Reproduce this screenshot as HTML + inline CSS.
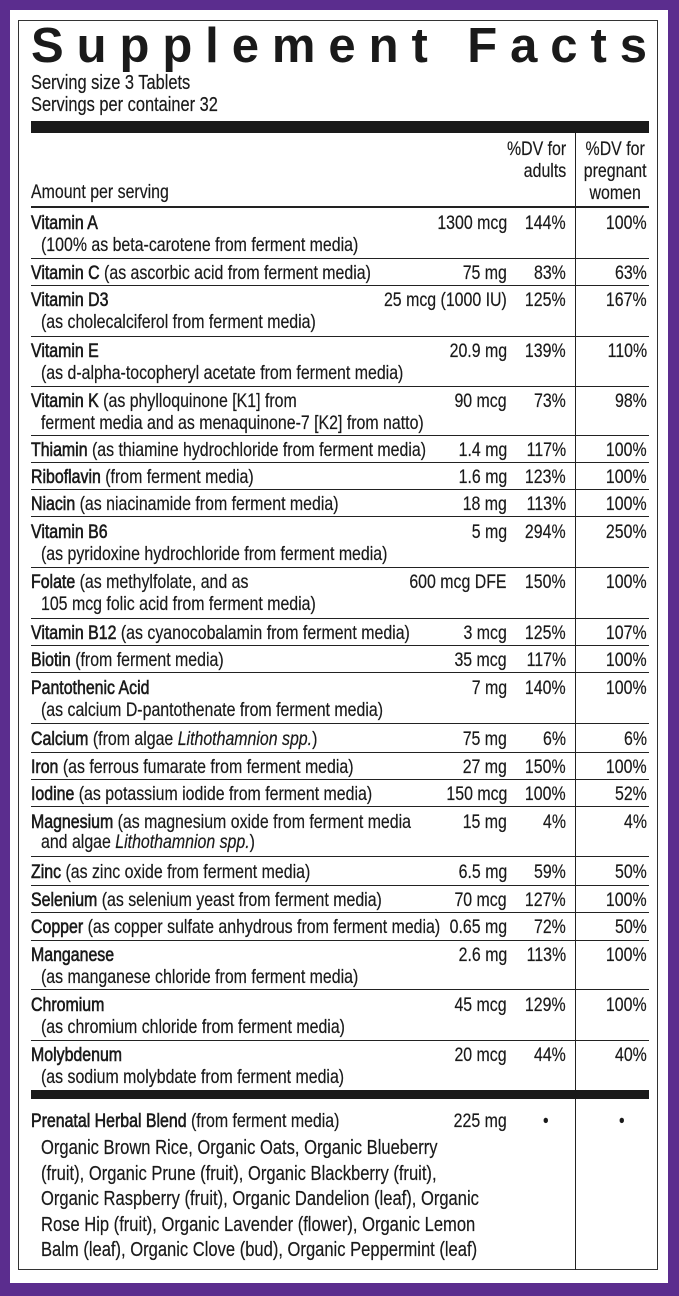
<!DOCTYPE html>
<html><head><meta charset="utf-8"><style>
body{margin:0;width:679px;height:1296px;background:#5b2d8e;position:relative;overflow:hidden;font-family:"Liberation Sans",sans-serif;color:#1a1a1a}
#w{position:absolute;left:10px;top:10px;width:658px;height:1273px;background:#fff}
#b{position:absolute;left:18px;top:20px;width:640px;height:1250px;border:1px solid #333;box-sizing:border-box}
.a{position:absolute;font-size:19.4px;line-height:22px;white-space:nowrap;transform:scaleX(.82);transform-origin:left top;-webkit-text-stroke:0.2px #1a1a1a}
.h{position:absolute;left:31px;width:618px;height:1px;background:#222}
.n{left:31px}.s{left:41px}
.v1,.v2,.v3{text-align:right;transform-origin:right top}
.v1{right:172px}.v2{right:113px}.v3{right:32px}
b{font-weight:normal;-webkit-text-stroke:0.6px #1a1a1a}
</style></head><body>
<div id="w"></div><div id="b"></div>
<svg style="position:absolute;left:0;top:0" width="679" height="80"><text x="31" y="62" textLength="616" lengthAdjust="spacing" font-family="Liberation Sans" font-weight="bold" font-size="49" fill="#1a1a1a">Supplement Facts</text></svg>
<div class="a n" style="top:72px;font-size:20px">Serving size 3 Tablets</div>
<div class="a n" style="top:94px;font-size:20px">Servings per container 32</div>
<div style="position:absolute;left:31px;top:121px;width:618px;height:12px;background:#1a1a1a"></div>
<div style="position:absolute;left:575px;top:133px;width:1px;height:1137px;background:#222"></div>
<div class="a v2" style="top:138px">%DV for<br>adults</div>
<div class="a v3" style="top:138px;text-align:center">%DV for<br>pregnant<br>women</div>
<div class="a n" style="top:181px">Amount per serving</div>
<div class="h" style="top:206px;height:2px"></div>

<div class="a n" style="top:212px"><b>Vitamin A</b></div><div class="a s" style="top:234px">(100% as beta-carotene from ferment media)</div>
<div class="a v1" style="top:212px">1300 mcg</div><div class="a v2" style="top:212px">144%</div><div class="a v3" style="top:212px">100%</div>
<div class="h" style="top:258px"></div>
<div class="a n" style="top:262px"><b>Vitamin C</b> (as ascorbic acid from ferment media)</div>
<div class="a v1" style="top:262px">75 mg</div><div class="a v2" style="top:262px">83%</div><div class="a v3" style="top:262px">63%</div>
<div class="h" style="top:285px"></div>
<div class="a n" style="top:289px"><b>Vitamin D3</b></div><div class="a s" style="top:311px">(as cholecalciferol from ferment media)</div>
<div class="a v1" style="top:289px">25 mcg (1000 IU)</div><div class="a v2" style="top:289px">125%</div><div class="a v3" style="top:289px">167%</div>
<div class="h" style="top:336px"></div>
<div class="a n" style="top:340px"><b>Vitamin E</b></div><div class="a s" style="top:362px">(as d-alpha-tocopheryl acetate from ferment media)</div>
<div class="a v1" style="top:340px">20.9 mg</div><div class="a v2" style="top:340px">139%</div><div class="a v3" style="top:340px">110%</div>
<div class="h" style="top:386px"></div>
<div class="a n" style="top:390px"><b>Vitamin K</b> (as phylloquinone [K1] from</div><div class="a s" style="top:412px">ferment media and as menaquinone-7 [K2] from natto)</div>
<div class="a v1" style="top:390px">90 mcg</div><div class="a v2" style="top:390px">73%</div><div class="a v3" style="top:390px">98%</div>
<div class="h" style="top:435px"></div>
<div class="a n" style="top:439px"><b>Thiamin</b> (as thiamine hydrochloride from ferment media)</div>
<div class="a v1" style="top:439px">1.4 mg</div><div class="a v2" style="top:439px">117%</div><div class="a v3" style="top:439px">100%</div>
<div class="h" style="top:462px"></div>
<div class="a n" style="top:466px"><b>Riboflavin</b> (from ferment media)</div>
<div class="a v1" style="top:466px">1.6 mg</div><div class="a v2" style="top:466px">123%</div><div class="a v3" style="top:466px">100%</div>
<div class="h" style="top:489px"></div>
<div class="a n" style="top:493px"><b>Niacin</b> (as niacinamide from ferment media)</div>
<div class="a v1" style="top:493px">18 mg</div><div class="a v2" style="top:493px">113%</div><div class="a v3" style="top:493px">100%</div>
<div class="h" style="top:516px"></div>
<div class="a n" style="top:521px"><b>Vitamin B6</b></div><div class="a s" style="top:543px">(as pyridoxine hydrochloride from ferment media)</div>
<div class="a v1" style="top:521px">5 mg</div><div class="a v2" style="top:521px">294%</div><div class="a v3" style="top:521px">250%</div>
<div class="h" style="top:567px"></div>
<div class="a n" style="top:571px"><b>Folate</b> (as methylfolate, and as</div><div class="a s" style="top:593px">105 mcg folic acid from ferment media)</div>
<div class="a v1" style="top:571px">600 mcg DFE</div><div class="a v2" style="top:571px">150%</div><div class="a v3" style="top:571px">100%</div>
<div class="h" style="top:618px"></div>
<div class="a n" style="top:622px"><b>Vitamin B12</b> (as cyanocobalamin from ferment media)</div>
<div class="a v1" style="top:622px">3 mcg</div><div class="a v2" style="top:622px">125%</div><div class="a v3" style="top:622px">107%</div>
<div class="h" style="top:645px"></div>
<div class="a n" style="top:649px"><b>Biotin</b> (from ferment media)</div>
<div class="a v1" style="top:649px">35 mcg</div><div class="a v2" style="top:649px">117%</div><div class="a v3" style="top:649px">100%</div>
<div class="h" style="top:672px"></div>
<div class="a n" style="top:677px"><b>Pantothenic Acid</b></div><div class="a s" style="top:699px">(as calcium D-pantothenate from ferment media)</div>
<div class="a v1" style="top:677px">7 mg</div><div class="a v2" style="top:677px">140%</div><div class="a v3" style="top:677px">100%</div>
<div class="h" style="top:723px"></div>
<div class="a n" style="top:728px"><b>Calcium</b> (from algae <i>Lithothamnion spp.</i>)</div>
<div class="a v1" style="top:728px">75 mg</div><div class="a v2" style="top:728px">6%</div><div class="a v3" style="top:728px">6%</div>
<div class="h" style="top:752px"></div>
<div class="a n" style="top:756px"><b>Iron</b> (as ferrous fumarate from ferment media)</div>
<div class="a v1" style="top:756px">27 mg</div><div class="a v2" style="top:756px">150%</div><div class="a v3" style="top:756px">100%</div>
<div class="h" style="top:779px"></div>
<div class="a n" style="top:783px"><b>Iodine</b> (as potassium iodide from ferment media)</div>
<div class="a v1" style="top:783px">150 mcg</div><div class="a v2" style="top:783px">100%</div><div class="a v3" style="top:783px">52%</div>
<div class="h" style="top:806px"></div>
<div class="a n" style="top:811px"><b>Magnesium</b> (as magnesium oxide from ferment media</div><div class="a s" style="top:831px">and algae <i>Lithothamnion spp.</i>)</div>
<div class="a v1" style="top:811px">15 mg</div><div class="a v2" style="top:811px">4%</div><div class="a v3" style="top:811px">4%</div>
<div class="h" style="top:856px"></div>
<div class="a n" style="top:861px"><b>Zinc</b> (as zinc oxide from ferment media)</div>
<div class="a v1" style="top:861px">6.5 mg</div><div class="a v2" style="top:861px">59%</div><div class="a v3" style="top:861px">50%</div>
<div class="h" style="top:885px"></div>
<div class="a n" style="top:889px"><b>Selenium</b> (as selenium yeast from ferment media)</div>
<div class="a v1" style="top:889px">70 mcg</div><div class="a v2" style="top:889px">127%</div><div class="a v3" style="top:889px">100%</div>
<div class="h" style="top:912px"></div>
<div class="a n" style="top:916px"><b>Copper</b> (as copper sulfate anhydrous from ferment media)</div>
<div class="a v1" style="top:916px">0.65 mg</div><div class="a v2" style="top:916px">72%</div><div class="a v3" style="top:916px">50%</div>
<div class="h" style="top:940px"></div>
<div class="a n" style="top:944px"><b>Manganese</b></div><div class="a s" style="top:966px">(as manganese chloride from ferment media)</div>
<div class="a v1" style="top:944px">2.6 mg</div><div class="a v2" style="top:944px">113%</div><div class="a v3" style="top:944px">100%</div>
<div class="h" style="top:989px"></div>
<div class="a n" style="top:994px"><b>Chromium</b></div><div class="a s" style="top:1016px">(as chromium chloride from ferment media)</div>
<div class="a v1" style="top:994px">45 mcg</div><div class="a v2" style="top:994px">129%</div><div class="a v3" style="top:994px">100%</div>
<div class="h" style="top:1040px"></div>
<div class="a n" style="top:1044px"><b>Molybdenum</b></div><div class="a s" style="top:1066px">(as sodium molybdate from ferment media)</div>
<div class="a v1" style="top:1044px">20 mcg</div><div class="a v2" style="top:1044px">44%</div><div class="a v3" style="top:1044px">40%</div>
<div style="position:absolute;left:31px;top:1090px;width:618px;height:9px;background:#1a1a1a"></div>
<div class="a n" style="top:1110px"><b>Prenatal Herbal Blend</b> (from ferment media)</div>
<div class="a v1" style="top:1110px">225 mg</div><div class="a" style="top:1110px;left:543px">•</div><div class="a" style="top:1110px;left:619px">•</div>
<div class="a s" style="top:1136px;line-height:25.5px;font-size:20.2px">Organic Brown Rice, Organic Oats, Organic Blueberry<br>(fruit), Organic Prune (fruit), Organic Blackberry (fruit),<br>Organic Raspberry (fruit), Organic Dandelion (leaf), Organic<br>Rose Hip (fruit), Organic Lavender (flower), Organic Lemon<br>Balm (leaf), Organic Clove (bud), Organic Peppermint (leaf)</div>
</body></html>
